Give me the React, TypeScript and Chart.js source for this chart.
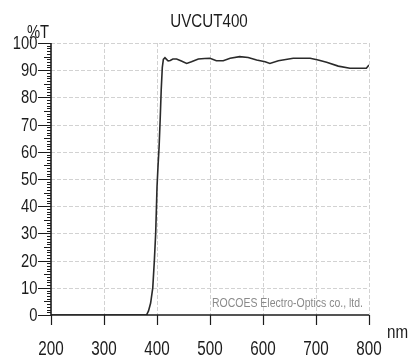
import { useEffect, useRef } from "react";
import { Chart, registerables } from "chart.js";

Chart.register(...registerables);

const TITLE = "UVCUT400";
const Y_UNIT = "%T";
const X_UNIT = "nm";
const MAKER = "ROCOES Electro-Optics co., ltd.";

const xTicks = [200, 300, 400, 500, 600, 700, 800];
const yTicks = [0, 10, 20, 30, 40, 50, 60, 70, 80, 90, 100];

// Transmittance curve: wavelength (nm) vs %T
const wavelength = [
  200, 250, 300, 350, 375, 380, 381, 384, 388, 392, 395, 397.5, 399, 400, 402, 404, 406, 408, 410, 412,
  415, 418, 421, 425, 430, 437, 446, 456, 465, 478, 490, 500, 512, 525, 538, 556, 572, 588, 604, 613,
  629, 657, 689, 704, 720, 742, 764, 795, 800,
];
const transmittance = [
  0, 0, 0, 0, 0, 0, 0.3, 1.5, 4.4, 10, 20, 30, 40, 47, 55, 62, 72, 83, 91, 94,
  94.6, 94.0, 93.4, 93.6, 94.1, 94.1, 93.4, 92.5, 93.1, 94.1, 94.3, 94.4, 93.5, 93.5, 94.4, 95.0, 94.7, 93.75, 93.1, 92.5,
  93.5, 94.4, 94.4, 93.75, 92.9, 91.5, 90.7, 90.7, 91.9,
];

const FONT = "'Liberation Sans', Arial, sans-serif";
const INK = "#1c1c1c";

// Draws text horizontally condensed by factor k around its anchor point.
function narrowText(
  ctx: CanvasRenderingContext2D,
  text: string,
  x: number,
  y: number,
  size: number,
  k: number,
  align: CanvasTextAlign,
  baseline: CanvasTextBaseline,
  color: string
) {
  ctx.save();
  ctx.translate(x, y);
  ctx.scale(k, 1);
  ctx.font = `${size}px ${FONT}`;
  ctx.fillStyle = color;
  ctx.textAlign = align;
  ctx.textBaseline = baseline;
  ctx.fillText(text, 0, 0);
  ctx.restore();
}

const framePlugin = {
  id: "frame",
  beforeDatasetsDraw(chart: any) {
    const { ctx, chartArea: a, scales } = chart;
    const x = scales.x;
    const y = scales.y;
    ctx.save();
    ctx.strokeStyle = "#d2d2d2";
    ctx.lineWidth = 1;
    ctx.setLineDash([4, 2]);
    for (const v of yTicks) {
      if (v === yTicks[0]) continue;
      const py = Math.round(y.getPixelForValue(v)) + 0.5;
      ctx.beginPath();
      ctx.moveTo(a.left, py);
      ctx.lineTo(a.right, py);
      ctx.stroke();
    }
    for (const v of xTicks) {
      if (v === xTicks[0]) continue;
      const px = Math.round(x.getPixelForValue(v)) + 0.5;
      ctx.beginPath();
      ctx.moveTo(px, a.top);
      ctx.lineTo(px, a.bottom);
      ctx.stroke();
    }
    ctx.restore();
  },
  afterDraw(chart: any) {
    const { ctx, chartArea: a, scales } = chart;
    const x = scales.x;
    const y = scales.y;
    ctx.save();
    ctx.setLineDash([]);
    ctx.strokeStyle = INK;

    // axis lines
    ctx.lineWidth = 1.6;
    ctx.beginPath();
    ctx.moveTo(a.left, a.top);
    ctx.lineTo(a.left, a.bottom);
    ctx.lineTo(a.right, a.bottom);
    ctx.stroke();

    // y tick marks: major every 10, medium every 5, minor every 1
    ctx.lineWidth = 1;
    const yMin = yTicks[0];
    const yMax = yTicks[yTicks.length - 1];
    for (let v = yMin; v <= yMax; v++) {
      const len = v % 10 === 0 ? 13 : v % 5 === 0 ? 7 : 4;
      const py = Math.round(y.getPixelForValue(v)) + 0.5;
      ctx.beginPath();
      ctx.moveTo(a.left - len, py);
      ctx.lineTo(a.left, py);
      ctx.stroke();
    }

    // x tick marks
    ctx.lineWidth = 1.2;
    for (const v of xTicks) {
      const px = Math.round(x.getPixelForValue(v)) + 0.5;
      ctx.beginPath();
      ctx.moveTo(px, a.bottom);
      ctx.lineTo(px, a.bottom + 10);
      ctx.stroke();
    }
    ctx.restore();

    // tick labels
    for (const v of yTicks) {
      narrowText(ctx, String(v), a.left - 13.5, y.getPixelForValue(v) + 1, 18, 0.82, "right", "middle", INK);
    }
    for (const v of xTicks) {
      narrowText(ctx, String(v), x.getPixelForValue(v), a.bottom + 40, 19.5, 0.78, "center", "alphabetic", INK);
    }

    // titles and labels
    narrowText(ctx, TITLE, 209, 27, 18.5, 0.82, "center", "alphabetic", INK);
    narrowText(ctx, Y_UNIT, 27, 38, 18, 0.82, "left", "alphabetic", INK);
    narrowText(ctx, X_UNIT, 387, 338, 18.5, 0.82, "left", "alphabetic", INK);
    narrowText(ctx, MAKER, 363, 307, 12.5, 0.84, "right", "alphabetic", "#8a8a8a");
  },
};

export default function App() {
  const canvasRef = useRef<HTMLCanvasElement | null>(null);

  useEffect(() => {
    document.body.style.margin = "0";
    const canvas = canvasRef.current;
    if (!canvas) return;
    const chart = new Chart(canvas, {
      type: "line",
      data: {
        datasets: [
          {
            data: wavelength.map((w, i) => ({ x: w, y: transmittance[i] })),
            borderColor: "#2a2a2a",
            borderWidth: 1.6,
            pointRadius: 0,
            tension: 0,
            fill: false,
          },
        ],
      },
      options: {
        responsive: false,
        animation: false,
        devicePixelRatio: 1,
        layout: { padding: { top: 43, right: 39, left: 0, bottom: 0 } },
        plugins: {
          legend: { display: false },
          tooltip: { enabled: false },
          title: { display: false },
        },
        scales: {
          x: {
            type: "linear",
            min: xTicks[0],
            max: xTicks[xTicks.length - 1],
            afterBuildTicks: (s: any) => {
              s.ticks = xTicks.map((v) => ({ value: v }));
            },
            afterFit: (s: any) => {
              s.height = 46;
            },
            grid: { display: false, drawTicks: false },
            border: { display: false },
            ticks: { display: false },
          },
          y: {
            type: "linear",
            min: yTicks[0],
            max: yTicks[yTicks.length - 1],
            afterBuildTicks: (s: any) => {
              s.ticks = yTicks.map((v) => ({ value: v }));
            },
            afterFit: (s: any) => {
              s.width = 51;
            },
            grid: { display: false, drawTicks: false },
            border: { display: false },
            ticks: { display: false },
          },
        },
      },
      plugins: [framePlugin],
    });
    return () => chart.destroy();
  }, []);

  return (
    <div style={{ position: "absolute", left: 0, top: 0, width: 408, height: 361, background: "#fff" }}>
      <canvas ref={canvasRef} width={408} height={361} style={{ display: "block" }} />
    </div>
  );
}
